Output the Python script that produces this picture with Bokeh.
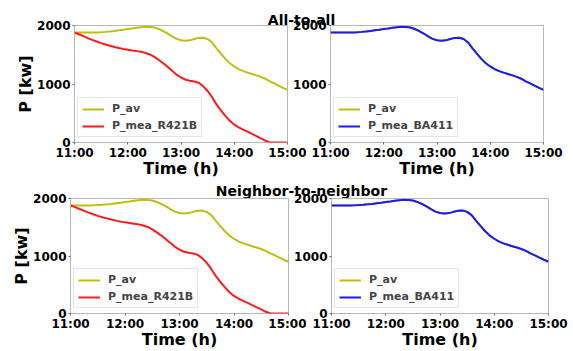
from bokeh.plotting import figure
from bokeh.layouts import column, row
from bokeh.models import Range1d, FixedTicker, Legend, LegendItem, Label
from bokeh.embed import file_html
from bokeh.resources import INLINE

# ---- data (every 5 minutes) ----
times = ["11:00", "11:05", "11:10", "11:15", "11:20", "11:25", "11:30", "11:35",
         "11:40", "11:45", "11:50", "11:55", "12:00", "12:05", "12:10", "12:15",
         "12:20", "12:25", "12:30", "12:35", "12:40", "12:45", "12:50", "12:55",
         "13:00", "13:05", "13:10", "13:15", "13:20", "13:25", "13:30", "13:35",
         "13:40", "13:45", "13:50", "13:55", "14:00", "14:05", "14:10", "14:15",
         "14:20", "14:25", "14:30", "14:35", "14:40", "14:45", "14:50", "14:55",
         "15:00"]
p_av = [1880, 1880, 1880, 1880, 1880, 1882, 1885, 1891, 1898, 1906, 1918, 1928,
        1939, 1949, 1960, 1971, 1977, 1974, 1966, 1940, 1905, 1863, 1815, 1772,
        1749, 1739, 1746, 1768, 1788, 1790, 1768, 1710, 1610, 1520, 1430, 1355,
        1300, 1255, 1220, 1195, 1170, 1147, 1122, 1090, 1045, 1010, 972, 935, 900]
p_mea_r421b = [1880, 1850, 1818, 1785, 1755, 1726, 1698, 1674, 1654, 1634, 1615,
               1598, 1585, 1573, 1562, 1550, 1530, 1505, 1464, 1410, 1355, 1293,
               1225, 1160, 1111, 1074, 1057, 1043, 1020, 960, 880, 775, 650, 550,
               455, 370, 305, 260, 220, 185, 146, 108, 72, 30, 0, 0, 0, 0, 0]
p_mea_ba411 = [1880, 1880, 1880, 1880, 1880, 1882, 1885, 1891, 1898, 1906, 1918,
               1928, 1939, 1949, 1960, 1971, 1977, 1974, 1966, 1940, 1905, 1863,
               1815, 1772, 1749, 1739, 1746, 1768, 1788, 1790, 1768, 1710, 1610,
               1520, 1430, 1355, 1300, 1255, 1220, 1195, 1170, 1147, 1122, 1090,
               1045, 1010, 972, 935, 900]
x_ticks = [11, 12, 13, 14, 15]
x_tick_labels = ["11:00", "12:00", "13:00", "14:00", "15:00"]
y_ticks = [0, 1000, 2000]
titles = ["All-to-all", "Neighbor-to-neighbor"]
x_label = "Time (h)"
y_label = "P [kw]"

hours = [int(t.split(":")[0]) + int(t.split(":")[1]) / 60 for t in times]

FONT = "DejaVu Sans"
C_AV = "#bfbf10"
C_RED = "#ff1a1a"
C_BLUE = "#1a1aff"


def panel(width, height, bl, br, bt, bb, second_name, second_vals, second_color,
          show_ylabel, margin=None):
    p = figure(width=width, height=height,
               x_range=Range1d(11, 15), y_range=Range1d(0, 2000),
               toolbar_location=None, output_backend="svg",
               min_border_left=bl, min_border_right=br,
               min_border_top=bt, min_border_bottom=bb,
               border_fill_color=None, background_fill_color="white",
               outline_line_color="#b8b8b8", outline_line_width=1)
    if margin is not None:
        p.margin = margin
    p.grid.visible = False
    p.xaxis.ticker = FixedTicker(ticks=x_ticks)
    p.xaxis.major_label_overrides = dict(zip(x_ticks, x_tick_labels))
    p.yaxis.ticker = FixedTicker(ticks=y_ticks)
    for ax in (p.xaxis[0], p.yaxis[0]):
        ax.axis_line_color = None
        ax.major_tick_line_color = "#666666"
        ax.major_tick_line_width = 1
        ax.minor_tick_line_color = None
        ax.major_tick_out = 2
        ax.major_tick_in = 0
        ax.minor_tick_out = 0
        ax.major_label_text_font = FONT
        ax.major_label_text_font_size = "12px"
        ax.major_label_text_font_style = "bold"
        ax.major_label_text_color = "black"
        ax.axis_label_text_font = FONT
        ax.axis_label_text_font_size = "16px"
        ax.axis_label_text_font_style = "bold"
        ax.axis_label_text_color = "black"
    p.xaxis.major_label_standoff = 1
    p.xaxis.axis_label_standoff = -4
    p.xaxis.axis_label = x_label
    p.yaxis.major_label_standoff = 2
    p.yaxis.axis_label_standoff = -1
    if show_ylabel:
        p.yaxis.axis_label = y_label

    r1 = p.line(hours, p_av, line_color=C_AV, line_width=2)
    r2 = p.line(hours, second_vals, line_color=second_color, line_width=2)
    leg = Legend(items=[LegendItem(label="P_av", renderers=[r1]),
                        LegendItem(label=second_name, renderers=[r2])],
                 location=(3, 5), margin=0, padding=4, spacing=4,
                 glyph_width=22, glyph_height=12, label_height=12,
                 label_standoff=8,
                 label_text_font=FONT, label_text_font_size="11px",
                 label_text_font_style="bold",
                 border_line_color="#cccccc", border_line_width=1,
                 background_fill_color="white", background_fill_alpha=0.85)
    p.add_layout(leg)
    return p


def title_strip(text, height, baseline_from_top, margin):
    t = figure(width=573, height=height, x_range=Range1d(0, 573),
               y_range=Range1d(0, height), toolbar_location=None,
               output_backend="svg", x_axis_location=None, y_axis_location=None,
               min_border=0, border_fill_color=None, background_fill_color=None,
               outline_line_color=None)
    t.grid.visible = False
    t.margin = margin
    t.add_layout(Label(x=301, y=height - baseline_from_top, text=text,
                       text_align="center", text_baseline="alphabetic",
                       text_font=FONT, text_font_size="14px",
                       text_font_style="bold", text_color="black"))
    return t


t1 = title_strip(titles[0], 30, 19, (0, 0, -25, 0))
tl = panel(306, 182, 74, 19, 20, 45, "P_mea_R421B", p_mea_r421b, C_RED, True)
tr = panel(283, 182, 38, 30, 20, 45, "P_mea_BA411", p_mea_ba411, C_BLUE, False,
           margin=(0, 0, 0, -16))
row1 = row(tl, tr, spacing=0)

t2 = title_strip(titles[1], 25, 15, (-12, 0, 0, 0))
bl = panel(306, 173, 70, 18, 20, 34, "P_mea_R421B", p_mea_r421b, C_RED, True)
br = panel(283, 173, 41, 25, 20, 34, "P_mea_BA411", p_mea_ba411, C_BLUE, False,
           margin=(0, 0, 0, -16))
row2 = row(bl, br, spacing=0)
row2.margin = (-22, 0, 0, 0)

layout = column(t1, row1, t2, row2, spacing=0)

open("out.html", "w").write(file_html(layout, INLINE))
